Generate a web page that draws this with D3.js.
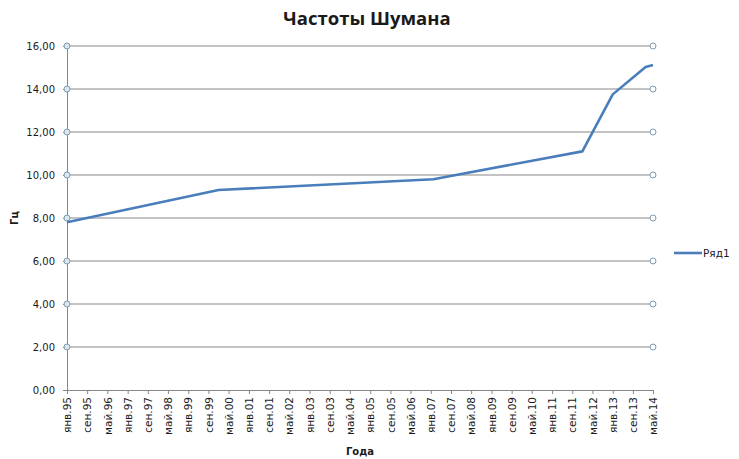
<!DOCTYPE html>
<html>
<head>
<meta charset="utf-8">
<script src="https://cdn.jsdelivr.net/npm/d3@7"></script>
<style>
  body { margin: 0; background: #fff; }
  svg text { font-family: "DejaVu Sans", Verdana, sans-serif; fill: #1a1a1a; }
</style>
</head>
<body>
<svg id="chart" width="739" height="459"></svg>
<script>
// data
const dates = ['1995-01', '2000-01', '2007-02', '2012-01', '2013-01', '2014-02', '2014-05'];
const values = [7.8, 9.3, 9.8, 11.1, 13.75, 15.02, 15.12];
const yTicks = [0, 2, 4, 6, 8, 10, 12, 14, 16];
const monthNames = ['янв', 'фев', 'мар', 'апр', 'май', 'июн', 'июл', 'авг', 'сен', 'окт', 'ноя', 'дек'];
const seriesName = 'Ряд1';

const parse = d3.timeParse('%Y-%m');
const data = dates.map((d, i) => ({ date: parse(d), value: values[i] }));

const svg = d3.select('#chart');
const mLeft = 67, mRight = 653, mTop = 46, mBottom = 390;

const x = d3.scaleTime()
    .domain([parse('1995-01'), parse('2014-05')])
    .range([mLeft, mRight]);
const y = d3.scaleLinear().domain([0, 16]).range([mBottom, mTop]);

// title
svg.append('text')
    .attr('x', 367).attr('y', 25)
    .attr('text-anchor', 'middle')
    .style('font-family', '"Open Sans", sans-serif')
    .style('font-weight', 'bold')
    .style('font-size', '18.5px')
    .text('Частоты Шумана');

// gridlines
svg.append('g').selectAll('line')
    .data(yTicks.filter(d => d > 0))
    .join('line')
    .attr('x1', mLeft).attr('x2', mRight)
    .attr('y1', d => y(d)).attr('y2', d => y(d))
    .attr('stroke', '#878787').attr('stroke-width', 1);

// y axis
let yAxis = svg.append('g')
    .attr('transform', `translate(${mLeft},0)`)
    .call(d3.axisLeft(y).tickValues(yTicks).tickSize(4).tickPadding(8)
        .tickFormat(d => d3.format('.2f')(d).replace('.', ',')));
yAxis.select('.domain').attr('stroke', '#878787');
yAxis.selectAll('.tick line').attr('stroke', '#878787');
yAxis.selectAll('text').style('font-size', '10px');

// x axis
let tickDates = d3.timeMonth.range(parse('1995-01'), d3.timeMonth.offset(parse('2014-05'), 1), 8);
let xAxis = svg.append('g')
    .attr('transform', `translate(0,${mBottom})`)
    .call(d3.axisBottom(x).tickValues(tickDates).tickSize(4)
        .tickFormat(d => monthNames[d.getMonth()] + '.' + d3.timeFormat('%y')(d)));
xAxis.select('.domain').attr('stroke', '#878787');
xAxis.selectAll('.tick line').attr('stroke', '#878787');
xAxis.selectAll('text')
    .style('font-size', '10.5px')
    .attr('text-anchor', 'end')
    .attr('transform', 'rotate(-90)')
    .attr('x', -7).attr('y', 0).attr('dy', '0.35em');

// marker circles at left and right ends of gridlines
let circ = svg.append('g');
circ.selectAll('circle.l')
    .data(yTicks.filter(d => d > 0))
    .join('circle').attr('class', 'l')
    .attr('cx', mLeft).attr('cy', d => y(d)).attr('r', 3)
    .attr('fill', '#dce6ec').attr('stroke', '#7d9cb4').attr('stroke-width', 1);
circ.selectAll('circle.r')
    .data(yTicks.filter(d => d > 0))
    .join('circle').attr('class', 'r')
    .attr('cx', mRight).attr('cy', d => y(d)).attr('r', 3)
    .attr('fill', '#fff').attr('stroke', '#7d9cb4').attr('stroke-width', 1);

// series line
svg.append('path')
    .datum(data)
    .attr('d', d3.line().x(d => x(d.date)).y(d => y(d.value)))
    .attr('fill', 'none')
    .attr('stroke', '#4a7ebb')
    .attr('stroke-width', 2.6)
    .attr('stroke-linejoin', 'round');

// axis titles
svg.append('text')
    .attr('transform', 'translate(18,218) rotate(-90)')
    .attr('text-anchor', 'middle')
    .style('font-size', '10px').style('font-weight', 'bold')
    .text('Гц');
svg.append('text')
    .attr('x', 360).attr('y', 455)
    .attr('text-anchor', 'middle')
    .style('font-size', '10px').style('font-weight', 'bold')
    .text('Года');

// legend
svg.append('line')
    .attr('x1', 674).attr('x2', 702).attr('y1', 253).attr('y2', 253)
    .attr('stroke', '#4a7ebb').attr('stroke-width', 2.6);
svg.append('text')
    .attr('x', 703).attr('y', 257)
    .style('font-size', '10.5px')
    .text(seriesName);
</script>
</body>
</html>
